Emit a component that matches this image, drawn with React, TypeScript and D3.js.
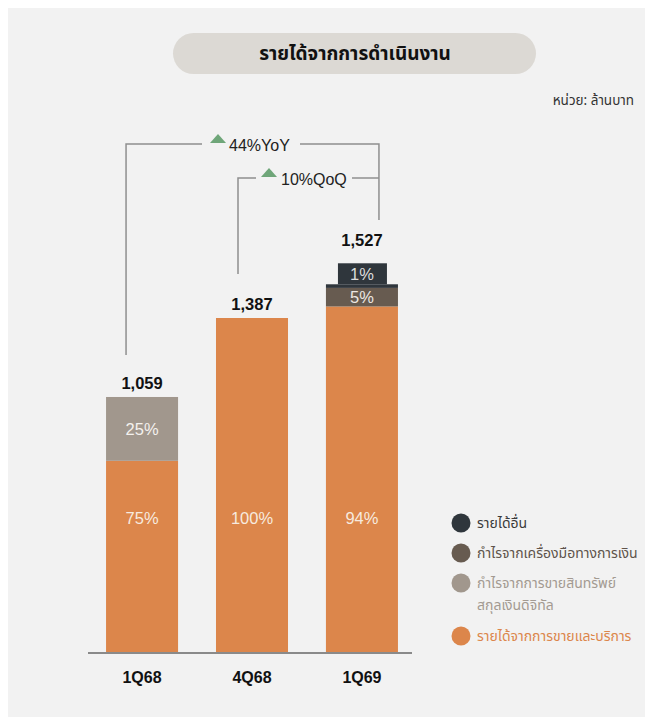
import React from "react";
import * as d3 from "d3";

const categories = ["1Q68", "4Q68", "1Q69"];
const totals = [1059, 1387, 1527];
const totalLabels = ["1,059", "1,387", "1,527"];
const serviceRevenue = [794, 1387, 1435];
const digitalAssetGain = [265, 0, 0];
const instrumentGain = [0, 0, 77];
const otherRevenue = [0, 0, 15];
const servicePct = ["75%", "100%", "94%"];
const digitalPct = ["25%", "", ""];
const instrumentPct = ["", "", "5%"];
const otherPct = ["", "", "1%"];
const legendLabels = [
  ["รายได้อื่น"],
  ["กำไรจากเครื่องมือทางการเงิน"],
  ["กำไรจากการขายสินทรัพย์", "สกุลเงินดิจิทัล"],
  ["รายได้จากการขายและบริการ"],
];
const yoyLabel = "44%YoY";
const qoqLabel = "10%QoQ";

const COLORS = {
  service: "#dc864b",
  digital: "#a1978d",
  instrument: "#675b50",
  other: "#2f363c",
};
const legendColors = [COLORS.other, COLORS.instrument, COLORS.digital, COLORS.service];
const legendTextColors = ["#3a3a3a", "#5e544b", "#a39a91", "#dc864b"];

const FONT = "'Noto Sans Thai', 'Noto Sans', 'DejaVu Sans', sans-serif";
const NUMFONT = "'Liberation Sans', Arial, sans-serif";

export default function App() {
  const W = 653, H = 725;
  const x = d3.scaleBand<string>().domain(categories).range([89, 415]).paddingInner(0.345).paddingOuter(0.155);
  const y = d3.scaleLinear().domain([0, 1387]).range([652, 318]);
  const bw = x.bandwidth();

  const seriesList = [
    { vals: serviceRevenue, color: COLORS.service },
    { vals: digitalAssetGain, color: COLORS.digital },
    { vals: instrumentGain, color: COLORS.instrument },
    { vals: otherRevenue, color: COLORS.other },
  ];

  const bars: React.ReactNode[] = [];
  categories.forEach((c, i) => {
    let base = 0;
    seriesList.forEach((s, si) => {
      const v = s.vals[i];
      if (v <= 0) return;
      const y0 = y(base), y1 = y(base + v);
      bars.push(
        <rect key={`b${i}-${si}`} x={x(c)!} y={y1} width={bw} height={y0 - y1} fill={s.color} />
      );
      base += v;
    });
  });

  const serviceLabelY = y(530);
  const labels: React.ReactNode[] = [];
  categories.forEach((c, i) => {
    const cx = x(c)! + bw / 2;
    let base = serviceRevenue[i];
    labels.push(
      <text key={`ls${i}`} x={cx} y={serviceLabelY} textAnchor="middle" fontFamily={NUMFONT} fontSize={16.5} fill="#f7eadf">{servicePct[i]}</text>
    );
    if (digitalAssetGain[i] > 0) {
      labels.push(
        <text key={`ld${i}`} x={cx} y={y(base + digitalAssetGain[i] / 2) + 6} textAnchor="middle" fontFamily={NUMFONT} fontSize={16.5} fill="#f4f1ee">{digitalPct[i]}</text>
      );
      base += digitalAssetGain[i];
    }
    if (instrumentGain[i] > 0) {
      labels.push(
        <text key={`li${i}`} x={cx} y={y(base + instrumentGain[i] / 2) + 6} textAnchor="middle" fontFamily={NUMFONT} fontSize={16.5} fill="#ece7e2">{instrumentPct[i]}</text>
      );
      base += instrumentGain[i];
    }
    if (otherRevenue[i] > 0) {
      const top = y(base + otherRevenue[i]);
      labels.push(
        <g key={`lo${i}`}>
          <rect x={cx - 24} y={top - 21} width={49} height={21} fill={COLORS.other} />
          <text x={cx} y={top - 4.5} textAnchor="middle" fontFamily={NUMFONT} fontSize={16.5} fill="#dcdcdc">{otherPct[i]}</text>
        </g>
      );
      base += otherRevenue[i];
    }
    const labelY = otherRevenue[i] > 0 ? y(totals[i]) - 38 : y(totals[i]) - 8;
    labels.push(
      <text key={`lt${i}`} x={cx} y={labelY} textAnchor="middle" fontFamily={NUMFONT} fontSize={16.5} fontWeight="bold" fill="#111">{totalLabels[i]}</text>
    );
  });

  const c0 = x(categories[0])! + bw / 2;
  const c1 = x(categories[1])! + bw / 2;
  const c2 = x(categories[2])! + bw / 2;
  const yoyY = 144, qoqY = 178;
  const leftX = c0 - 16, midX = c1 - 14, rightX = c2 + 17;
  const lineColor = "#8f8f8f";
  const tri = (x0: number, yb: number, w: number, h: number) => `M${x0},${yb} L${x0 + w / 2},${yb - h} L${x0 + w},${yb} Z`;

  return (
    <svg width={W} height={H} style={{ display: "block", position: "absolute", left: 0, top: 0 }}>
      <rect x={8} y={8} width={637} height={709} fill="#f2f2f2" />
      <rect x={173} y={33} width={363} height={41} rx={20.5} fill="#dcd9d4" />
      <text x={355} y={60} textAnchor="middle" fontFamily={FONT} fontSize={19} fontWeight="bold" fill="#111">รายได้จากการดำเนินงาน</text>
      <text x={634} y={105} textAnchor="end" fontFamily={FONT} fontSize={13.5} fill="#333">หน่วย: ล้านบาท</text>

      <g stroke={lineColor} strokeWidth={1.5} fill="none">
        <polyline points={`${leftX},355 ${leftX},${yoyY} 202,${yoyY}`} />
        <polyline points={`300,${yoyY} ${rightX},${yoyY} ${rightX},220`} />
        <polyline points={`${midX},274 ${midX},${qoqY} 256,${qoqY}`} />
        <polyline points={`352,${qoqY} ${rightX},${qoqY}`} />
      </g>
      <path d={tri(210, 143, 16, 9)} fill="#6fa679" />
      <path d={tri(261, 177, 16, 9)} fill="#6fa679" />
      <text x={229} y={151} fontFamily={NUMFONT} fontSize={16} fill="#222">{yoyLabel}</text>
      <text x={281} y={185} fontFamily={NUMFONT} fontSize={16} fill="#222">{qoqLabel}</text>

      {bars}
      {labels}

      <line x1={88} x2={412} y1={653} y2={653} stroke="#8a8a8a" strokeWidth={2} />
      {categories.map((c) => (
        <text key={c} x={x(c)! + bw / 2} y={683} textAnchor="middle" fontFamily={NUMFONT} fontSize={16} fontWeight="bold" fill="#111">{c}</text>
      ))}

      {(() => {
        const rows = [523, 553, 583, 636];
        return legendLabels.map((lines, i) => (
          <g key={`lg${i}`}>
            <circle cx={461} cy={rows[i]} r={9.5} fill={legendColors[i]} />
            {lines.map((t, j) => (
              <text key={j} x={477} y={rows[i] + 5 + j * 22} fontFamily={FONT} fontSize={14} fill={legendTextColors[i]}>{t}</text>
            ))}
          </g>
        ));
      })()}
    </svg>
  );
}
